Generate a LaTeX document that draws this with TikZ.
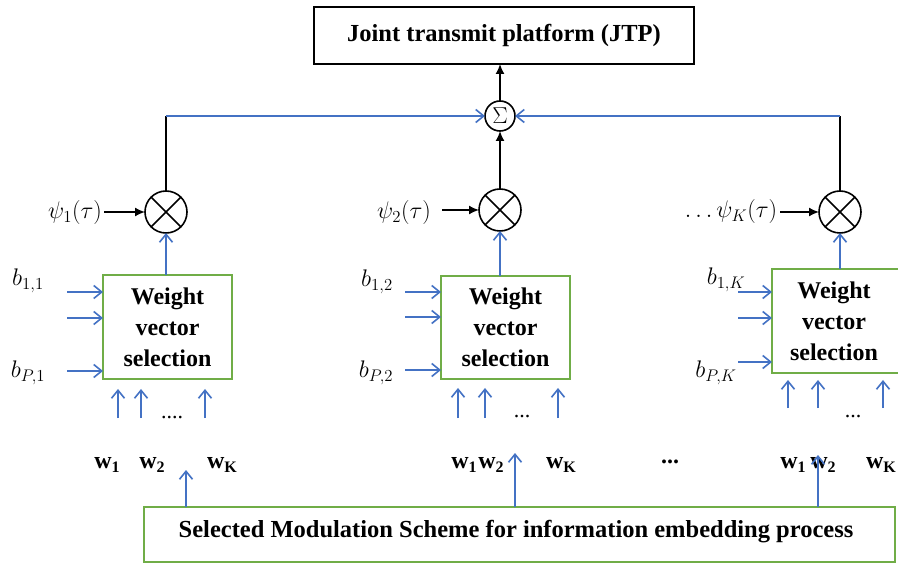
\documentclass[tikz,border=0pt]{standalone}
\usepackage{fix-cm}
\usepackage{fontspec}
\setmainfont{Liberation Serif}
\usetikzlibrary{arrows.meta}
\definecolor{lineblue}{RGB}{68,114,196}
\definecolor{boxgreen}{RGB}{112,173,71}
\newcommand{\wsym}[1]{{\bfseries w\raisebox{-4pt}{\fontsize{16}{16}\selectfont #1}}}
\begin{document}
\begin{tikzpicture}[x=1pt,y=-1pt,
  every node/.style={inner sep=0pt,outer sep=0pt},
  blackbox/.style={draw=black,line width=1.6pt,fill=white},
  grnbox/.style={draw=boxgreen,line width=1.6pt,fill=white},
  boxtext/.style={font=\bfseries\fontsize{24}{31}\selectfont,align=center},
  mult/.style={circle,draw=black,line width=1.6pt,minimum size=42pt},
  sumnode/.style={circle,draw=black,line width=1.6pt,minimum size=30pt,font=\fontsize{23}{23}\selectfont},
  bluearrow/.style={draw=lineblue,line width=1.6pt,-{Straight Barb[length=8pt,width=13pt]}},
  blackline/.style={draw=black,line width=1.6pt},
  blackarrow/.style={draw=black,line width=1.6pt,-{Latex[length=10pt,width=9pt]}},
  lbl/.style={font=\fontsize{24}{28}\selectfont},
  wlbl/.style={font=\fontsize{24}{28}\selectfont},
  dotlbl/.style={font=\fontsize{22}{24}\selectfont},
]
\clip (0,0) rectangle (898,564);
\fill[white] (0,0) rectangle (898,564);

% top: joint transmit platform and summation
\node[blackbox,minimum width=380pt,minimum height=57pt] (jtp) at (504,35.5)
  {\bfseries\fontsize{24.5}{28}\selectfont Joint transmit platform (JTP)};
\node[sumnode] (sum) at (500,116) {$\Sigma$};
\draw[blackarrow] (sum.north) -- (sum.north |- jtp.south);

% multipliers
\node[mult] (m1) at (166,212) {};
\node[mult] (m2) at (500,210) {};
\node[mult] (m3) at (840,212) {};
\foreach \m in {m1,m2,m3}{
  \draw[blackline] (\m.north west) -- (\m.south east);
  \draw[blackline] (\m.north east) -- (\m.south west);
}

% combining lines into the summation
\coordinate (cL) at (166,116);
\coordinate (cR) at (840,116);
\draw[blackline] (m1.north) -- (cL);
\draw[blackline] (m3.north) -- (cR);
\draw[bluearrow] (cL) -- (sum.west);
\draw[bluearrow] (cR) -- (sum.east);
\draw[blackarrow] (m2.north) -- (sum.south);

% carrier labels
\node[lbl] (psi1) at (75,213) {$\psi_1(\tau)$};
\node[lbl] (psi2) at (404,213) {$\psi_2(\tau)$};
\node[lbl] (psiK) at (731,212) {$\dots\psi_K(\tau)$};
\coordinate (p1) at (104,212);
\coordinate (p2) at (442,210);
\coordinate (p3) at (780,212);
\draw[blackarrow] (p1) -- (m1.west);
\draw[blackarrow] (p2) -- (m2.west);
\draw[blackarrow] (p3) -- (m3.west);

% weight vector selection blocks
\node[grnbox,minimum width=129pt,minimum height=104pt] (w1) at (167.5,327) {};
\node[boxtext] at (w1) {Weight\\vector\\selection};
\node[grnbox,minimum width=129pt,minimum height=103pt] (w2) at (505.5,327.5) {};
\node[boxtext] at (w2) {Weight\\vector\\selection};
\node[grnbox,minimum width=129pt,minimum height=104pt] (w3) at (836.5,321) {};
\node[boxtext] at (834,321) {Weight\\vector\\selection};

\draw[bluearrow] (w1.north -| m1) -- (m1.south);
\draw[bluearrow] (w2.north -| m2) -- (m2.south);
\draw[bluearrow] (w3.north -| m3) -- (m3.south);

% bit inputs on the left of each block
\node[lbl] at (28,281) {$b_{1,1}$};
\node[lbl] at (28,373) {$b_{P,1}$};
\node[lbl] at (377,282) {$b_{1,2}$};
\node[lbl] at (376,373) {$b_{P,2}$};
\node[lbl] at (726,280) {$b_{1,K}$};
\node[lbl] at (716,373) {$b_{P,K}$};

\foreach \y [count=\i] in {292,318,371}{
  \coordinate (a1\i) at (67,\y);
  \draw[bluearrow] (a1\i) -- (a1\i -| w1.west);
}
\foreach \y [count=\i] in {292,317,370}{
  \coordinate (a2\i) at (405,\y);
  \draw[bluearrow] (a2\i) -- (a2\i -| w2.west);
}
\foreach \y [count=\i] in {292,318,362}{
  \coordinate (a3\i) at (738,\y);
  \draw[bluearrow] (a3\i) -- (a3\i -| w3.west);
}

% weight inputs below each block
\foreach \x [count=\i] in {118,141,205}{
  \coordinate (t1\i) at (\x,418);
  \coordinate (h1\i) at (\x,389);
  \draw[bluearrow] (t1\i) -- (h1\i);
}
\foreach \x [count=\i] in {458,485,558}{
  \coordinate (t2\i) at (\x,418);
  \coordinate (h2\i) at (\x,388);
  \draw[bluearrow] (t2\i) -- (h2\i);
}
\foreach \x [count=\i] in {788,818,883}{
  \coordinate (t3\i) at (\x,408);
  \coordinate (h3\i) at (\x,380);
  \draw[bluearrow] (t3\i) -- (h3\i);
}
\node[dotlbl] at (172,418) {....};
\node[dotlbl] at (522,417) {...};
\node[dotlbl] at (853,417) {...};

% weight vector labels
\node[wlbl] at (107,465) {\wsym{1}};
\node[wlbl] at (152,465) {\wsym{2}};
\node[wlbl] at (222,465) {\wsym{K}};
\node[wlbl] at (464,465) {\wsym{1}};
\node[wlbl] at (491,465) {\wsym{2}};
\node[wlbl] at (561,465) {\wsym{K}};
\node[wlbl] at (793,465) {\wsym{1}};
\node[wlbl] at (823,465) {\wsym{2}};
\node[wlbl] at (881,465) {\wsym{K}};
\node[wlbl] at (670,462) {\bfseries ...};

% modulation scheme block
\node[grnbox,minimum width=751pt,minimum height=55pt] (sel) at (519.5,534.5) {};
\node[font=\bfseries\fontsize{24.5}{28}\selectfont] at (516,532)
  {Selected Modulation Scheme for information embedding process};
\coordinate (s1) at (186,470);
\coordinate (s2) at (515,453);
\coordinate (s3) at (818,455);
\draw[bluearrow] (sel.north -| s1) -- (s1);
\draw[bluearrow] (sel.north -| s2) -- (s2);
\draw[bluearrow] (sel.north -| s3) -- (s3);
\end{tikzpicture}
\end{document}
